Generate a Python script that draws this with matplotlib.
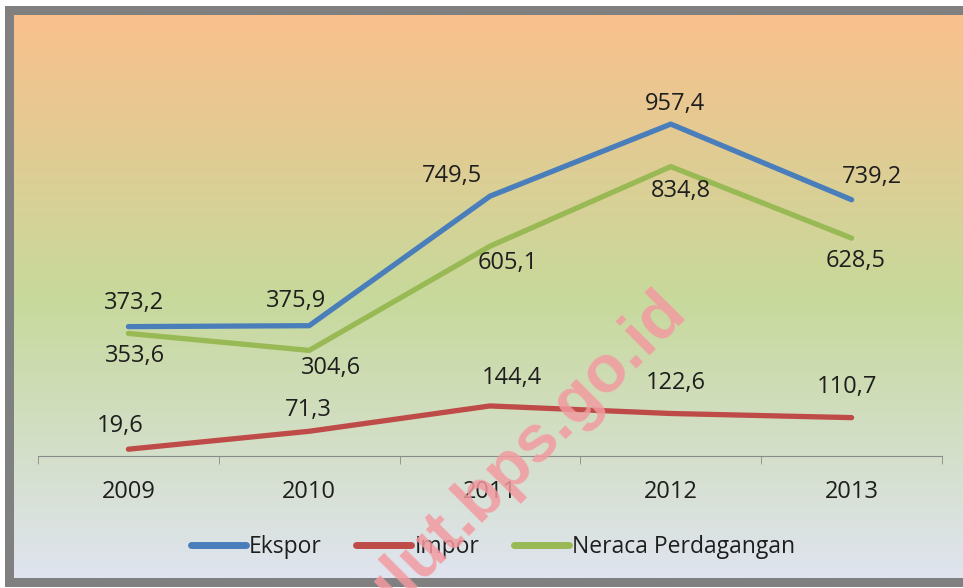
import numpy as np
import matplotlib
matplotlib.use('Agg')
import matplotlib.pyplot as plt
from matplotlib.colors import LinearSegmentedColormap
from matplotlib.patches import Rectangle
from matplotlib.lines import Line2D

plt.rcParams['font.family'] = ['Open Sans', 'DejaVu Sans']

# ---------------- data ----------------
years = ['2009', '2010', '2011', '2012', '2013']
ekspor = [373.2, 375.9, 749.5, 957.4, 739.2]
impor = [19.6, 71.3, 144.4, 122.6, 110.7]
neraca = [353.6, 304.6, 605.1, 834.8, 628.5]

# label offsets (pixels) from each point
off_ekspor = [(6, 24), (-13, 25), (-38, 20), (4, 20), (20, 23)]
off_impor = [(-8, 23), (-1, 21), (22, 28), (5, 30), (-5, 31)]
off_neraca = [(7, -23), (22, -18), (18, -17), (10, -24), (4, -23)]

c_eks, c_imp, c_ner = '#4A7EBB', '#BE4B48', '#98B954'

W, H = 963, 588
fig = plt.figure(figsize=(W / 100, H / 100), dpi=100, facecolor='white')


def fx(x):
    return x / W


def fy(y):
    return 1 - y / H


# gray frame
fig.patches.append(Rectangle((fx(5), fy(587)), 1, (587 - 6) / H,
                             transform=fig.transFigure, fc='#808080', ec='none', zorder=-1))

# gradient background
bg = fig.add_axes([fx(14), fy(578), 1, (578 - 15) / H])
bg.set_zorder(1)
cmap = LinearSegmentedColormap.from_list('bg', [(0, '#F9C08C'), (0.5, '#C7D99B'), (1, '#DFE4EF')])
bg.imshow(np.linspace(0, 1, 256).reshape(-1, 1), aspect='auto', cmap=cmap,
          extent=[0, 1, 0, 1], origin='upper')
bg.axis('off')

# main axes
ax = fig.add_axes([fx(38), fy(456), fx(942 - 38), 416 / H])
ax.set_zorder(2)
ax.patch.set_alpha(0)
x = np.arange(len(years))
for vals, col, offs in [(ekspor, c_eks, off_ekspor), (impor, c_imp, off_impor), (neraca, c_ner, off_neraca)]:
    ax.plot(x, vals, color=col, lw=3.8, solid_capstyle='round', solid_joinstyle='round')
    for xi, v, o in zip(x, vals, offs):
        ax.annotate(f'{v:.1f}'.replace('.', ','), (xi, v), xytext=o, textcoords='offset pixels',
                    ha='center', va='center', fontsize=17, color='#1e1e1e')

ax.set_xlim(-0.5, 4.5)
ax.set_ylim(0, 1200)
for s in ['top', 'left', 'right']:
    ax.spines[s].set_visible(False)
ax.spines['bottom'].set_color('#8a8a8a')
ax.set_yticks([])
ax.set_xticks(x, years)
ax.set_xticks(np.arange(-0.5, 5, 1), minor=True)
ax.tick_params(axis='x', which='major', length=0, pad=17, labelsize=17, labelcolor='#1e1e1e')
ax.tick_params(axis='x', which='minor', length=6, color='#8a8a8a', direction='out')

# legend
handles = [Line2D([], [], color=c_eks, lw=5, solid_capstyle='round'),
           Line2D([], [], color=c_imp, lw=5, solid_capstyle='round'),
           Line2D([], [], color=c_ner, lw=5, solid_capstyle='round')]
leg = fig.legend(handles, ['Ekspor', 'Impor', 'Neraca Perdagangan'], ncol=3, loc='center',
                 bbox_to_anchor=(fx(493), fy(547)), frameon=False, handlelength=2.4,
                 handletextpad=0.15, columnspacing=1.5, fontsize=16.5, labelcolor='#1e1e1e')
leg.set_zorder(5)

# watermark
fig.text(fx(509), fy(470), 'sulut.bps.go.id', rotation=45, ha='center', va='center',
         rotation_mode='anchor', fontsize=48, fontweight='bold', family='Liberation Sans',
         color='#F29AA0', alpha=0.85, zorder=10)

fig.savefig('out.png', dpi=100)
